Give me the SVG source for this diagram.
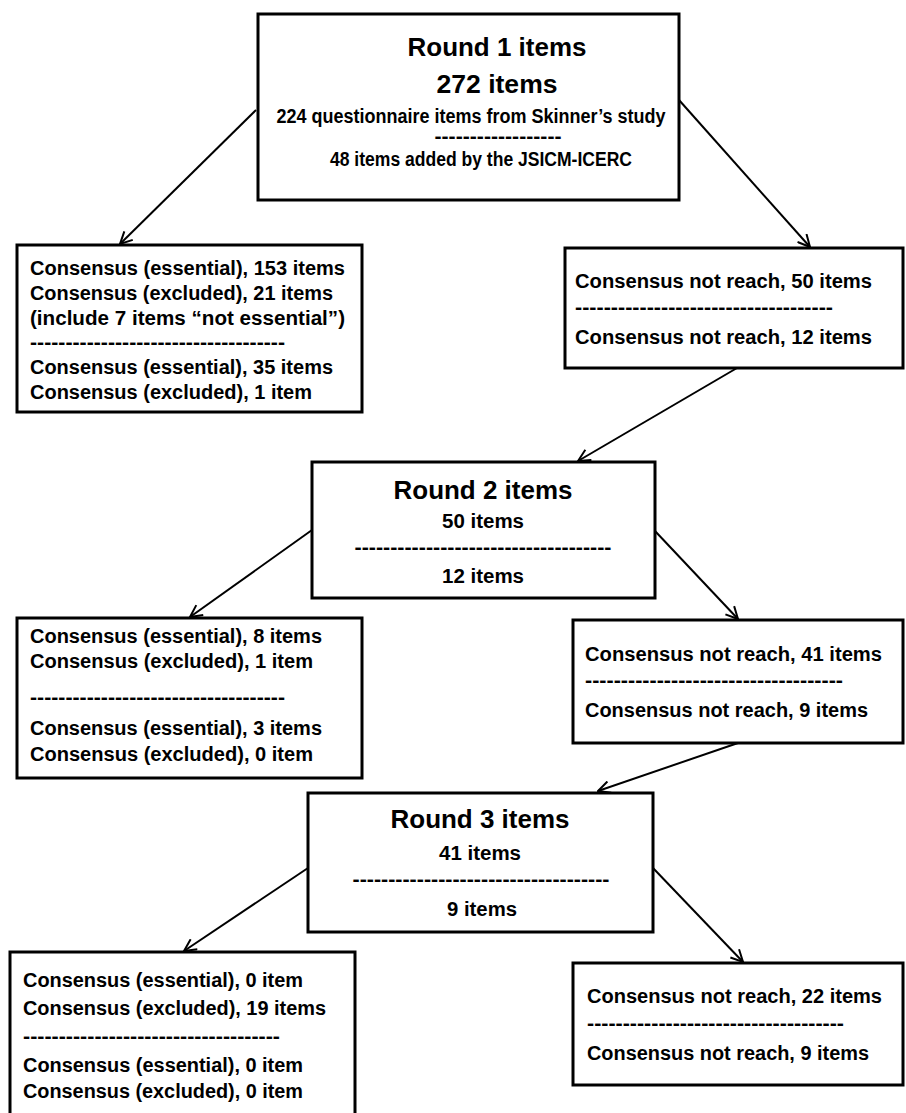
<svg xmlns="http://www.w3.org/2000/svg" width="906" height="1113" viewBox="0 0 906 1113">
<style>
.box{fill:#fff;stroke:#000;stroke-width:3}
text{font-family:"Liberation Sans",Arial,sans-serif;font-weight:bold;fill:#000}
.t{font-size:25px}
.b{font-size:20px}
.m{text-anchor:middle}
.c line{stroke:#000;stroke-width:2;marker-end:url(#ah)}
</style>
<defs>
<marker id="ah" viewBox="0 0 14 14" refX="13" refY="7" markerWidth="14" markerHeight="14" markerUnits="userSpaceOnUse" orient="auto">
<path d="M1,1 L13,7 L1,13" fill="none" stroke="#000" stroke-width="2"/>
</marker>
</defs>
<rect width="906" height="1113" fill="#fff"/>
<g id="round1">
<rect class="box" x="258" y="14" width="421" height="186"/>
<text class="t m" x="497" y="56" textLength="179" lengthAdjust="spacingAndGlyphs">Round 1 items</text>
<text class="t m" x="497" y="93" textLength="121" lengthAdjust="spacingAndGlyphs">272 items</text>
<text class="b m" x="471" y="123" textLength="389" lengthAdjust="spacingAndGlyphs">224 questionnaire items from Skinner’s study</text>
<text class="b m" x="498" y="143" textLength="127" lengthAdjust="spacingAndGlyphs">------------------</text>
<text class="b m" x="481" y="166" textLength="302" lengthAdjust="spacingAndGlyphs">48 items added by the JSICM-ICERC</text>
</g>
<g id="r1left">
<rect class="box" x="17" y="245" width="345" height="167"/>
<text class="b" x="30" y="275" textLength="315" lengthAdjust="spacingAndGlyphs">Consensus (essential), 153 items</text>
<text class="b" x="30" y="300" textLength="303" lengthAdjust="spacingAndGlyphs">Consensus (excluded), 21 items</text>
<text class="b" x="30" y="325" textLength="315" lengthAdjust="spacingAndGlyphs">(include 7 items “not essential”)</text>
<text class="b" x="30" y="349" textLength="255" lengthAdjust="spacingAndGlyphs">------------------------------------</text>
<text class="b" x="30" y="374" textLength="303" lengthAdjust="spacingAndGlyphs">Consensus (essential), 35 items</text>
<text class="b" x="30" y="399" textLength="282" lengthAdjust="spacingAndGlyphs">Consensus (excluded), 1 item</text>
</g>
<g id="r1right">
<rect class="box" x="565" y="248" width="338" height="120"/>
<text class="b" x="575" y="288" textLength="297" lengthAdjust="spacingAndGlyphs">Consensus not reach, 50 items</text>
<text class="b" x="575" y="314" textLength="258" lengthAdjust="spacingAndGlyphs">------------------------------------</text>
<text class="b" x="575" y="344" textLength="297" lengthAdjust="spacingAndGlyphs">Consensus not reach, 12 items</text>
</g>
<g id="round2">
<rect class="box" x="312" y="462" width="343" height="136"/>
<text class="t m" x="483" y="499" textLength="179" lengthAdjust="spacingAndGlyphs">Round 2 items</text>
<text class="b m" x="483" y="528" textLength="82" lengthAdjust="spacingAndGlyphs">50 items</text>
<text class="b m" x="483" y="554" textLength="257" lengthAdjust="spacingAndGlyphs">------------------------------------</text>
<text class="b m" x="483" y="583" textLength="82" lengthAdjust="spacingAndGlyphs">12 items</text>
</g>
<g id="r2left">
<rect class="box" x="17" y="618" width="345" height="160"/>
<text class="b" x="30" y="643" textLength="292" lengthAdjust="spacingAndGlyphs">Consensus (essential), 8 items</text>
<text class="b" x="30" y="668" textLength="283" lengthAdjust="spacingAndGlyphs">Consensus (excluded), 1 item</text>
<text class="b" x="30" y="704" textLength="255" lengthAdjust="spacingAndGlyphs">------------------------------------</text>
<text class="b" x="30" y="735" textLength="292" lengthAdjust="spacingAndGlyphs">Consensus (essential), 3 items</text>
<text class="b" x="30" y="761" textLength="283" lengthAdjust="spacingAndGlyphs">Consensus (excluded), 0 item</text>
</g>
<g id="r2right">
<rect class="box" x="573" y="620" width="330" height="123"/>
<text class="b" x="585" y="661" textLength="297" lengthAdjust="spacingAndGlyphs">Consensus not reach, 41 items</text>
<text class="b" x="585" y="687" textLength="258" lengthAdjust="spacingAndGlyphs">------------------------------------</text>
<text class="b" x="585" y="717" textLength="283" lengthAdjust="spacingAndGlyphs">Consensus not reach, 9 items</text>
</g>
<g id="round3">
<rect class="box" x="308" y="793" width="345" height="139"/>
<text class="t m" x="480" y="828" textLength="179" lengthAdjust="spacingAndGlyphs">Round 3 items</text>
<text class="b m" x="480" y="860" textLength="82" lengthAdjust="spacingAndGlyphs">41 items</text>
<text class="b m" x="481" y="886" textLength="257" lengthAdjust="spacingAndGlyphs">------------------------------------</text>
<text class="b m" x="482" y="916" textLength="70" lengthAdjust="spacingAndGlyphs">9 items</text>
</g>
<g id="r3left">
<rect class="box" x="10" y="952" width="345" height="164"/>
<text class="b" x="23" y="987" textLength="280" lengthAdjust="spacingAndGlyphs">Consensus (essential), 0 item</text>
<text class="b" x="23" y="1015" textLength="303" lengthAdjust="spacingAndGlyphs">Consensus (excluded), 19 items</text>
<text class="b" x="23" y="1043" textLength="257" lengthAdjust="spacingAndGlyphs">------------------------------------</text>
<text class="b" x="23" y="1072" textLength="280" lengthAdjust="spacingAndGlyphs">Consensus (essential), 0 item</text>
<text class="b" x="23" y="1098" textLength="280" lengthAdjust="spacingAndGlyphs">Consensus (excluded), 0 item</text>
</g>
<g id="r3right">
<rect class="box" x="573" y="963" width="330" height="122"/>
<text class="b" x="587" y="1003" textLength="295" lengthAdjust="spacingAndGlyphs">Consensus not reach, 22 items</text>
<text class="b" x="587" y="1030" textLength="257" lengthAdjust="spacingAndGlyphs">------------------------------------</text>
<text class="b" x="587" y="1060" textLength="282" lengthAdjust="spacingAndGlyphs">Consensus not reach, 9 items</text>
</g>
<g id="connectors" class="c">
<line x1="256" y1="110" x2="120" y2="244"/>
<line x1="679" y1="100" x2="810" y2="247"/>
<line x1="737" y1="368" x2="578" y2="461"/>
<line x1="312" y1="530" x2="190" y2="617"/>
<line x1="655" y1="531" x2="738" y2="619"/>
<line x1="738" y1="743" x2="598" y2="791"/>
<line x1="308" y1="868" x2="184" y2="951"/>
<line x1="653" y1="868" x2="743" y2="962"/>
</g>
</svg>
